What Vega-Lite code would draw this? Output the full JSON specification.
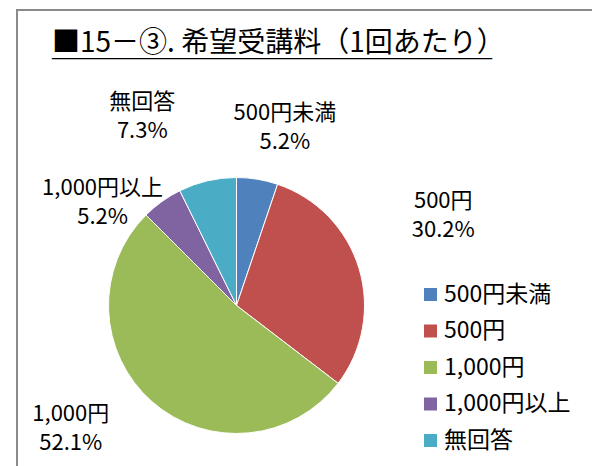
{
  "$schema": "https://vega.github.io/schema/vega-lite/v6.json",
  "autosize": {"type": "none"},
  "width": 600,
  "height": 480,
  "padding": {"left": 17, "top": 10, "right": 0, "bottom": 0},
  "background": "white",
  "view": {"stroke": "#8a8a8a", "strokeWidth": 2},
  "title": {
    "text": "■15－③. 希望受講料（1回あたり）",
    "subtitle": "____________________________________________",
    "anchor": "start",
    "frame": "group",
    "orient": "top",
    "offset": -71,
    "dx": 35,
    "baseline": "alphabetic",
    "font": "Noto Sans CJK JP",
    "fontSize": 28,
    "fontWeight": "normal",
    "color": "black",
    "subtitleFont": "DejaVu Sans",
    "subtitleFontSize": 20,
    "subtitleColor": "black",
    "subtitlePadding": -25
  },
  "data": {
    "values": [
      {"cat": "500円未満", "v": 5.2, "lbl": "500円未満\n5.2%", "i": 1},
      {"cat": "500円", "v": 30.2, "lbl": "500円\n30.2%", "i": 2},
      {"cat": "1,000円", "v": 52.1, "lbl": "1,000円\n52.1%", "i": 3},
      {"cat": "1,000円以上", "v": 5.2, "lbl": "1,000円以上\n5.2%", "i": 4},
      {"cat": "無回答", "v": 7.3, "lbl": "無回答\n7.3%", "i": 5}
    ]
  },
  "encoding": {
    "theta": {"field": "v", "type": "quantitative", "stack": true},
    "order": {"field": "i", "type": "quantitative"}
  },
  "layer": [
    {
      "mark": {"type": "arc", "radius": 128, "stroke": "white", "strokeWidth": 1, "xOffset": -80.5, "yOffset": 55.5},
      "encoding": {
        "color": {
          "field": "cat",
          "type": "nominal",
          "sort": ["500円未満", "500円", "1,000円", "1,000円以上", "無回答"],
          "scale": {
            "domain": ["500円未満", "500円", "1,000円", "1,000円以上", "無回答"],
            "range": ["#4F81BD", "#C0504D", "#9BBB59", "#8064A2", "#4BACC6"]
          },
          "legend": {
            "orient": "none",
            "legendX": 402,
            "legendY": 273,
            "padding": 0,
            "offset": 0,
            "title": null,
            "symbolType": "square",
            "symbolSize": 169,
            "symbolStrokeWidth": 0,
            "labelFont": "Noto Sans CJK JP",
            "labelFontSize": 23,
            "labelColor": "black",
            "labelOffset": 2,
            "rowPadding": 12.5,
            "labelLimit": 300
          }
        }
      }
    },
    {
      "mark": {"type": "text", "radius": 168, "xOffset": -80.5, "yOffset": 55.5, "dx": 21, "dy": -26.5, "lineBreak": "\n", "lineHeight": 29, "font": "Noto Sans CJK JP", "fontSize": 22, "color": "black", "align": "center", "baseline": "middle"},
      "encoding": {
        "detail": {"field": "cat"},
        "text": {"condition": {"test": "datum.cat === '500円未満'", "field": "lbl"}, "value": ""}
      }
    },
    {
      "mark": {"type": "text", "radius": 168, "xOffset": -80.5, "yOffset": 55.5, "dx": 46, "dy": -56, "lineBreak": "\n", "lineHeight": 29, "font": "Noto Sans CJK JP", "fontSize": 22, "color": "black", "align": "center", "baseline": "middle"},
      "encoding": {
        "detail": {"field": "cat"},
        "text": {"condition": {"test": "datum.cat === '500円'", "field": "lbl"}, "value": ""}
      }
    },
    {
      "mark": {"type": "text", "radius": 168, "xOffset": -80.5, "yOffset": 55.5, "dx": -55, "dy": -18, "lineBreak": "\n", "lineHeight": 29, "font": "Noto Sans CJK JP", "fontSize": 22, "color": "black", "align": "center", "baseline": "middle"},
      "encoding": {
        "detail": {"field": "cat"},
        "text": {"condition": {"test": "datum.cat === '1,000円'", "field": "lbl"}, "value": ""}
      }
    },
    {
      "mark": {"type": "text", "radius": 168, "xOffset": -80.5, "yOffset": 55.5, "dx": -36, "dy": 19, "lineBreak": "\n", "lineHeight": 29, "font": "Noto Sans CJK JP", "fontSize": 22, "color": "black", "align": "center", "baseline": "middle"},
      "encoding": {
        "detail": {"field": "cat"},
        "text": {"condition": {"test": "datum.cat === '1,000円以上'", "field": "lbl"}, "value": ""}
      }
    },
    {
      "mark": {"type": "text", "radius": 168, "xOffset": -80.5, "yOffset": 55.5, "dx": -56, "dy": -39.5, "lineBreak": "\n", "lineHeight": 29, "font": "Noto Sans CJK JP", "fontSize": 22, "color": "black", "align": "center", "baseline": "middle"},
      "encoding": {
        "detail": {"field": "cat"},
        "text": {"condition": {"test": "datum.cat === '無回答'", "field": "lbl"}, "value": ""}
      }
    }
  ]
}
